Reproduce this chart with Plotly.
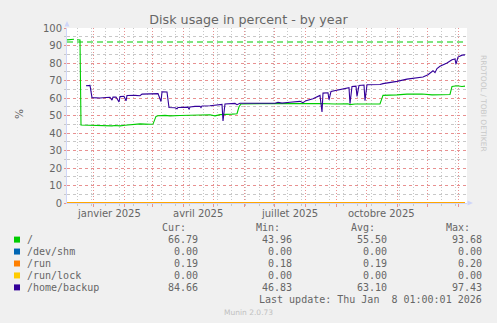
import plotly.graph_objects as go

# ---------------- data ----------------
title_text = "Disk usage in percent - by year"
y_ticks = [0, 10, 20, 30, 40, 50, 60, 70, 80, 90, 100]
x_tick_dates = ["2025-01-16 12:00", "2025-04-16", "2025-07-16 12:00", "2025-10-16 12:00"]
x_tick_labels = ["janvier 2025", "avril 2025", "juillet 2025", "octobre 2025"]

x_start = "2024-12-06"
x_end = "2026-01-10"

root_dates = ["2024-12-06", "2024-12-10", "2024-12-11", "2024-12-13", "2024-12-14", "2024-12-16",
              "2024-12-19", "2024-12-20", "2024-12-29", "2025-01-03", "2025-01-08", "2025-01-12",
              "2025-01-16", "2025-01-20", "2025-01-23", "2025-01-28", "2025-02-02", "2025-02-10",
              "2025-02-17", "2025-02-27", "2025-03-02", "2025-03-05", "2025-03-07", "2025-03-14",
              "2025-03-19", "2025-03-29", "2025-04-08", "2025-04-18", "2025-04-28", "2025-05-03",
              "2025-05-08", "2025-05-20", "2025-05-25", "2025-05-27", "2025-05-29", "2025-06-17",
              "2025-07-07", "2025-07-27", "2025-08-16", "2025-08-31", "2025-09-13", "2025-09-15",
              "2025-09-20", "2025-10-15", "2025-10-18", "2025-11-01", "2025-11-11", "2025-11-26",
              "2025-12-06", "2025-12-16", "2025-12-24", "2025-12-26", "2025-12-31", "2026-01-05",
              "2026-01-08"]
root_vals = [93.2, 93.3, 93.7, 93.6, None, 93.3,
             93.2, 44.6, 44.4, 44.2, 44.5, 44.0,
             44.0, 44.1, 44.3, 44.1, 44.4, 45.0,
             45.2, 45.0, 45.1, 49.5, 49.9, 50.1,
             49.8, 50.0, 50.2, 50.1, 50.4, 49.8,
             50.5, 50.8, 51.0, 55.0, 56.6, 56.8,
             56.9, 56.8, 56.9, 56.6, 56.7, 56.2,
             56.6, 56.6, 61.5, 61.8, 62.2, 62.3,
             61.8, 61.9, 62.0, 66.6, 67.0, 66.6,
             66.79]

backup_dates = ["2024-12-25", "2024-12-29", "2024-12-31", "2025-01-08", "2025-01-14", "2025-01-18",
                "2025-01-20", "2025-01-21", "2025-01-24", "2025-01-27", "2025-01-28", "2025-02-01",
                "2025-02-03", "2025-02-04", "2025-02-12", "2025-02-17", "2025-02-19", "2025-02-27",
                "2025-03-07", "2025-03-10", "2025-03-11", "2025-03-16", "2025-03-18", "2025-03-24",
                "2025-03-26", "2025-03-27", "2025-04-06", "2025-04-07", "2025-04-08", "2025-04-13",
                "2025-04-18", "2025-04-19", "2025-04-20", "2025-04-28", "2025-05-08", "2025-05-10",
                "2025-05-11", "2025-05-13", "2025-05-23", "2025-05-25", "2025-05-28", "2025-06-17",
                "2025-07-02", "2025-07-05", "2025-07-09", "2025-07-17", "2025-07-27", "2025-07-30",
                "2025-08-02", "2025-08-09", "2025-08-16", "2025-08-18", "2025-08-19", "2025-08-24",
                "2025-08-25", "2025-08-27", "2025-08-30", "2025-09-05", "2025-09-12", "2025-09-14",
                "2025-09-15", "2025-09-17", "2025-09-21", "2025-09-22", "2025-09-24", "2025-09-29",
                "2025-09-30", "2025-10-02", "2025-10-15", "2025-10-18", "2025-11-01", "2025-11-11",
                "2025-11-27", "2025-12-02", "2025-12-07", "2025-12-09", "2025-12-11", "2025-12-14",
                "2025-12-21", "2025-12-26", "2025-12-29", "2025-12-30", "2026-01-01", "2026-01-05",
                "2026-01-08"]
backup_vals = [67.0, 67.2, 60.2, 60.0, 60.3, 60.4,
               58.8, 60.5, 60.6, 57.7, 60.8, 61.0,
               58.4, 61.4, 61.5, 61.3, 62.2, 62.3,
               62.5, 58.0, 63.5, 63.4, 54.6, 54.4,
               53.8, 54.6, 54.8, 53.5, 54.9, 55.2,
               55.3, 54.5, 55.4, 55.6, 56.2, 56.3,
               46.83, 56.6, 56.9, 56.2, 57.0, 57.0,
               57.0, 57.5, 57.1, 57.6, 58.1, 57.3,
               58.5, 59.6, 61.5, 52.0, 62.8, 63.0,
               59.0, 63.8, 64.2, 64.7, 65.7, 65.9,
               56.7, 66.6, 66.8, 60.9, 67.2, 67.4,
               58.5, 67.6, 67.7, 68.2, 69.5, 70.8,
               72.0, 73.3, 75.6, 74.5, 76.8, 78.1,
               80.0, 81.9, 82.3, 79.4, 83.4, 84.5,
               84.66]

const_dates = ["2024-12-06", "2026-01-08"]
shm_vals = [0.0, 0.0]
run_vals = [0.19, 0.19]
lock_vals = [0.0, 0.0]

warn_dates = ["2024-12-06", "2026-01-06"]
warn_vals = [92.0, 92.0]

series_names = ["/", "/dev/shm", "/run", "/run/lock", "/home/backup"]
series_colors = ["#00cc00", "#0066b3", "#ff8000", "#ffcc00", "#330099"]
cur_vals = [66.79, 0.00, 0.19, 0.00, 84.66]
min_vals = [43.96, 0.00, 0.18, 0.00, 46.83]
avg_vals = [55.50, 0.00, 0.19, 0.00, 63.10]
max_vals = [93.68, 0.00, 0.20, 0.00, 97.43]
last_update = "Last update: Thu Jan  8 01:00:01 2026"
footer = "Munin 2.0.73"
watermark = "RRDTOOL / TOBI OETIKER"

# ---------------- layout geometry ----------------
W, H = 497, 323
L, R, T, B = 67, 467, 28, 203   # plot area in pixels


def px(x):
    return (x - L) / (R - L)


def py(y):
    return (B - y) / (B - T)


FONT = "DejaVu Sans"
MONO = "DejaVu Sans Mono"
FC = "#666666"

fig = go.Figure()

fig.add_trace(go.Scatter(x=warn_dates, y=warn_vals, mode="lines",
                         line=dict(color="#00cc00", width=1.2, dash="6px,4px"),
                         hoverinfo="skip"))
fig.add_trace(go.Scatter(x=root_dates, y=root_vals, mode="lines",
                         line=dict(color=series_colors[0], width=1.1), connectgaps=False))
fig.add_trace(go.Scatter(x=const_dates, y=shm_vals, mode="lines",
                         line=dict(color=series_colors[1], width=1.1)))
fig.add_trace(go.Scatter(x=const_dates, y=run_vals, mode="lines",
                         line=dict(color=series_colors[2], width=1.1)))
fig.add_trace(go.Scatter(x=const_dates, y=lock_vals, mode="lines",
                         line=dict(color=series_colors[3], width=1.1, )))
fig.add_trace(go.Scatter(x=backup_dates, y=backup_vals, mode="lines",
                         line=dict(color=series_colors[4], width=1.1)))

MAJ = "#e89090"
MIN = "#c8c8c8"
GD = "1px,2px"

fig.update_layout(
    width=W, height=H,
    margin=dict(l=L, r=W - R, t=T, b=H - B, pad=0),
    paper_bgcolor="#f0f0f0", plot_bgcolor="#ffffff",
    showlegend=False,
    title=dict(text=title_text, x=0.5, xanchor="center", y=1 - 19.5 / H, yanchor="middle",
               font=dict(family=FONT, size=12.7, color=FC)),
    xaxis=dict(type="date", range=[x_start, x_end],
               tickmode="linear", tick0="2025-01-01", dtick="M1",
               showticklabels=False, ticks="outside", ticklen=3, tickcolor=MAJ,
               showgrid=True, gridcolor=MAJ, griddash=GD, gridwidth=1,
               minor=dict(tick0="2024-12-16", dtick=14 * 86400000, showgrid=True,
                          gridcolor=MIN, griddash=GD, gridwidth=1, ticks="outside", ticklen=2,
                          tickcolor=MIN),
               showline=True, linecolor="#cfd6f8", linewidth=1, zeroline=False,
               layer="below traces", fixedrange=True),
    yaxis=dict(range=[0, 100], tickmode="linear", tick0=0, dtick=10,
               ticks="outside", ticklen=2, tickcolor=MAJ,
               tickfont=dict(family=FONT, size=10, color=FC),
               showgrid=True, gridcolor=MAJ, griddash="dot", gridwidth=1,
               minor=dict(tick0=0, dtick=5, showgrid=True, gridcolor=MIN, griddash="dot", gridwidth=1,
                          ticks="outside", ticklen=2, tickcolor=MIN),
               showline=True, linecolor="#cfd6f8", linewidth=1, zeroline=False,
               layer="below traces", fixedrange=True),
)

ann = []
# x tick labels (mid-month, like rrdtool)
for d, t in zip(x_tick_dates, x_tick_labels):
    ann.append(dict(x=d, xref="x", y=py(213), yref="paper", text=t, showarrow=False,
                    xanchor="center", yanchor="middle",
                    font=dict(family=FONT, size=10, color=FC), borderpad=0))
# y axis title
ann.append(dict(x=px(11), xref="paper", y=py(114), yref="paper", text="%", showarrow=False,
                textangle=-90, font=dict(family=FONT, size=10.5, color=FC)))
# watermark
ann.append(dict(x=px(490), xref="paper", y=py(53), yref="paper", text=watermark,
                showarrow=False, textangle=90,
                font=dict(family=FONT, size=7.5, color="#c8c8c8")))

# legend
col_right = [199, 293.3, 387.7, 482.7]
headers = ["Cur:", "Min:", "Avg:", "Max:"]
hdr_y = 227.7
for cr, h in zip(col_right, headers):
    ann.append(dict(x=px(cr - 12), xref="paper", y=py(hdr_y), yref="paper", text=h,
                    showarrow=False, xanchor="right", yanchor="middle", borderpad=0,
                    font=dict(family=MONO, size=10, color=FC)))
shapes = []
for i, name in enumerate(series_names):
    ry = 239.6 + 11.95 * i
    shapes.append(dict(type="rect", xref="paper", yref="paper",
                       x0=px(14), x1=px(20), y0=py(ry + 3), y1=py(ry - 3),
                       fillcolor=series_colors[i], line=dict(width=0)))
    ann.append(dict(x=px(26), xref="paper", y=py(ry), yref="paper", text=name,
                    showarrow=False, xanchor="left", yanchor="middle", borderpad=0,
                    font=dict(family=MONO, size=10, color=FC)))
    for cr, v in zip(col_right, [cur_vals[i], min_vals[i], avg_vals[i], max_vals[i]]):
        ann.append(dict(x=px(cr), xref="paper", y=py(ry), yref="paper", text=f"{v:.2f}",
                        showarrow=False, xanchor="right", yanchor="middle", borderpad=0,
                        font=dict(family=MONO, size=10, color=FC)))
ann.append(dict(x=px(482.7), xref="paper", y=py(299.3), yref="paper", text=last_update,
                showarrow=False, xanchor="right", yanchor="middle", borderpad=0,
                font=dict(family=MONO, size=10, color=FC)))
ann.append(dict(x=px(248), xref="paper", y=py(312.3), yref="paper", text=footer,
                showarrow=False, xanchor="center", yanchor="middle", borderpad=0,
                font=dict(family=FONT, size=7.5, color="#c0c0c0")))

# axis arrows
shapes.append(dict(type="path", xref="paper", yref="paper",
                   path=f"M {px(64.5)} {py(26.5)} L {px(69.5)} {py(26.5)} L {px(67)} {py(21)} Z",
                   fillcolor="#cfd6f8", line=dict(width=0)))
shapes.append(dict(type="path", xref="paper", yref="paper",
                   path=f"M {px(467.5)} {py(200.5)} L {px(467.5)} {py(205.5)} L {px(473)} {py(203)} Z",
                   fillcolor="#cfd6f8", line=dict(width=0)))

fig.update_layout(annotations=ann, shapes=shapes)

fig.write_html("out.html")
